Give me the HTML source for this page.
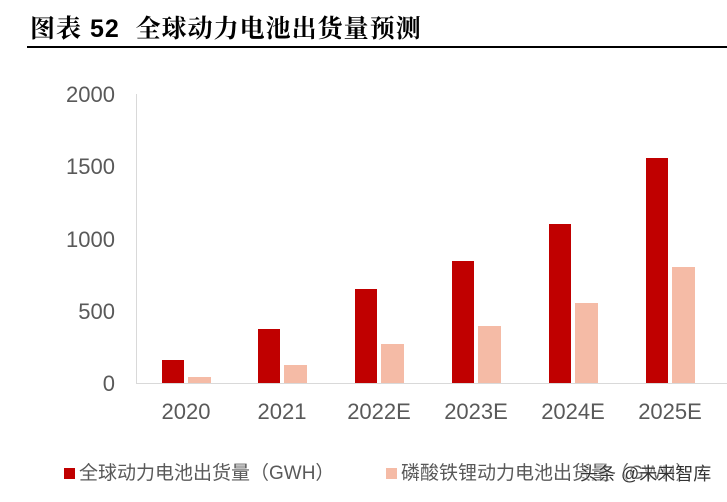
<!DOCTYPE html>
<html><head><meta charset="utf-8"><style>
body{margin:0;background:#fff;width:727px;height:502px;overflow:hidden;position:relative;font-family:"Liberation Sans","Noto Sans CJK SC",sans-serif}
.t{position:absolute;left:30px;top:9px;font-size:25px;font-weight:bold;color:#000;font-family:"Liberation Sans","Noto Serif CJK SC",serif;letter-spacing:1px}
.ln{position:absolute;left:27px;top:46px;width:700px;height:2px;background:#000}
.y{position:absolute;right:612px;font-size:22px;color:#595959;line-height:1}
.x{position:absolute;top:399px;width:90px;text-align:center;font-size:22px;color:#595959}
.b{position:absolute}
.d{background:#C00000;width:22px}.l{background:#F5BBA6;width:23px}
.lg{position:absolute;top:458px;font-size:19px;color:#595959;white-space:nowrap}
.sq{display:inline-block;width:11px;height:11px;margin-right:4px}
.wm{position:absolute;left:580px;top:460px;font-size:18px;color:#333;white-space:nowrap;text-shadow:0 0 2px #fff,0 0 2px #fff}
</style></head><body>
<div class="t">图表 52&nbsp; 全球动力电池出货量预测</div>
<div class="ln"></div>
<div class="y" style="top:84px">2000</div>
<div class="y" style="top:156px">1500</div>
<div class="y" style="top:229px">1000</div>
<div class="y" style="top:301px">500</div>
<div class="y" style="top:373px">0</div>
<div class="b" style="left:136px;top:94px;width:1px;height:290px;background:#d9d9d9"></div>
<div class="b" style="left:136px;top:383px;width:591px;height:1px;background:#d9d9d9"></div>
<div class="b d" style="left:162px;top:360px;height:23px"></div><div class="b l" style="left:188px;top:377px;height:6px"></div>
<div class="b d" style="left:258px;top:329px;height:54px"></div><div class="b l" style="left:284px;top:365px;height:18px"></div>
<div class="b d" style="left:355px;top:289px;height:94px"></div><div class="b l" style="left:381px;top:344px;height:39px"></div>
<div class="b d" style="left:452px;top:261px;height:122px"></div><div class="b l" style="left:478px;top:326px;height:57px"></div>
<div class="b d" style="left:549px;top:224px;height:159px"></div><div class="b l" style="left:575px;top:303px;height:80px"></div>
<div class="b d" style="left:646px;top:158px;height:225px"></div><div class="b l" style="left:672px;top:267px;height:116px"></div>
<div class="x" style="left:141px">2020</div>
<div class="x" style="left:237px">2021</div>
<div class="x" style="left:334px">2022E</div>
<div class="x" style="left:431px">2023E</div>
<div class="x" style="left:528px">2024E</div>
<div class="x" style="left:625px">2025E</div>
<div class="lg" style="left:64px"><span class="sq" style="background:#C00000"></span>全球动力电池出货量（GWH）</div>
<div class="lg" style="left:386px"><span class="sq" style="background:#F5BBA6"></span>磷酸铁锂动力电池出货量（GWH）</div>
<div class="wm">头条 @未来智库</div>
</body></html>
